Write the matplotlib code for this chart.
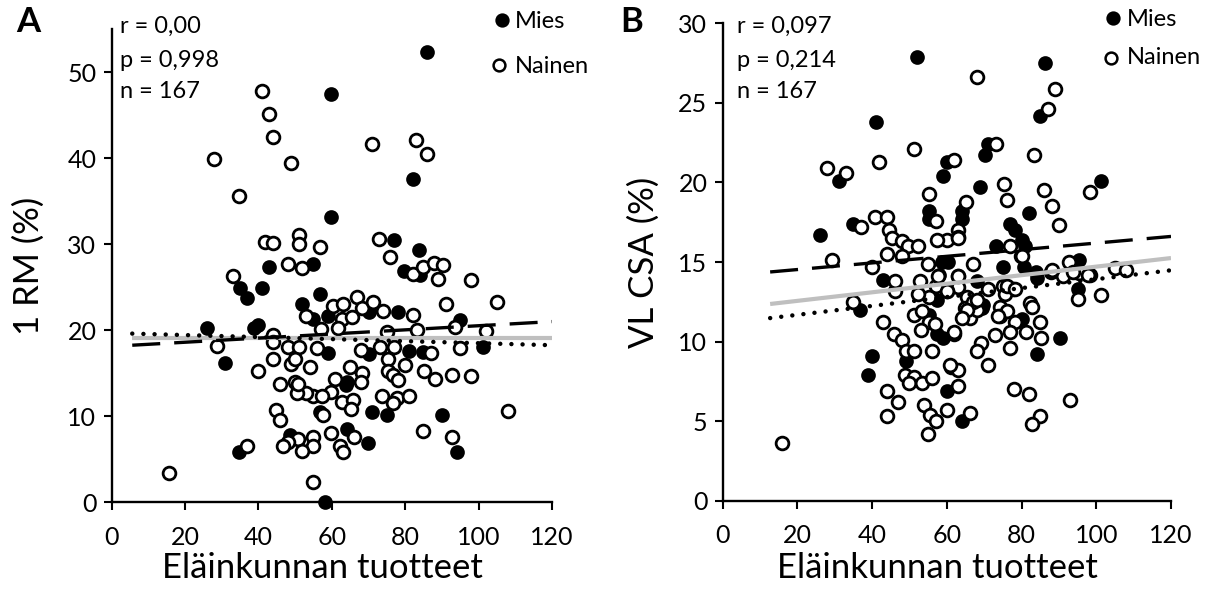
#!/usr/bin/env python3
"""Scatter plots of 1 RM and VL CSA change against animal-product intake."""
import numpy as np
import matplotlib
matplotlib.use("Agg")
import matplotlib.pyplot as plt

plt.rcParams["font.family"] = ["Lato", "DejaVu Sans"]

# panel A: 1 RM (%) vs intake, (x, y) per subject
rm_mies = [
    (86.0, 52.3), (59.9, 47.4), (59.9, 33.2), (82.0, 37.6), (77.0, 30.5), (83.8, 29.3),
    (42.9, 27.3), (54.9, 27.7), (35.0, 24.9), (36.8, 23.7), (40.9, 24.9), (79.7, 26.9),
    (84.0, 26.4), (56.9, 24.2), (51.9, 23.1), (54.9, 21.3), (58.9, 21.6), (70.2, 22.1),
    (78.1, 22.1), (95.0, 21.2), (25.9, 20.3), (38.9, 20.2), (40.0, 20.6), (30.9, 16.2),
    (59.0, 17.4), (70.2, 17.2), (81.1, 17.6), (84.9, 17.5), (101.1, 18.1), (64.0, 14.0),
    (63.8, 13.6), (56.8, 10.5), (71.0, 10.5), (75.1, 10.1), (90.1, 10.2), (94.2, 5.9),
    (64.0, 8.5), (69.9, 6.9), (48.6, 7.8), (34.8, 5.9), (58.1, 0.0),
]
rm_nainen = [
    (40.9, 47.8), (42.9, 45.1), (43.9, 42.4), (28.0, 39.9), (48.9, 39.4), (34.8, 35.6),
    (71.0, 41.6), (82.9, 42.1), (86.0, 40.5), (41.8, 30.3), (44.0, 30.1), (51.0, 31.1),
    (51.0, 30.0), (56.9, 29.7), (72.9, 30.6), (75.8, 28.5), (48.0, 27.7), (51.9, 27.2),
    (33.0, 26.3), (82.0, 26.5), (84.9, 27.3), (87.9, 27.8), (90.2, 27.6), (89.0, 25.9),
    (97.9, 25.8), (105.1, 23.3), (52.9, 21.7), (60.2, 22.8), (63.1, 23.1), (62.9, 21.3),
    (65.4, 21.5), (66.9, 23.9), (68.1, 22.6), (71.1, 23.3), (74.0, 22.2), (82.0, 21.8),
    (91.1, 23.1), (93.5, 20.4), (57.0, 20.1), (61.8, 20.3), (74.9, 19.8), (83.1, 20.0),
    (102.0, 19.9), (44.0, 19.4), (28.8, 18.2), (39.9, 15.3), (43.9, 18.6), (43.9, 16.6),
    (48.1, 18.1), (51.0, 18.1), (55.9, 17.9), (49.0, 16.1), (49.9, 16.7), (54.0, 15.7),
    (67.9, 17.7), (73.1, 18.0), (77.0, 18.0), (75.2, 16.6), (79.9, 16.0), (87.0, 17.3),
    (94.9, 17.9), (85.1, 15.3), (88.1, 14.3), (92.8, 14.8), (64.9, 15.7), (68.1, 15.0),
    (67.9, 14.0), (60.8, 14.3), (59.9, 12.8), (54.9, 12.4), (57.2, 12.3), (52.9, 12.7),
    (50.6, 12.7), (49.9, 14.0), (45.9, 13.8), (50.8, 13.8), (62.9, 11.7), (65.8, 11.9),
    (65.1, 10.9), (75.4, 15.2), (76.7, 14.8), (78.1, 14.2), (97.9, 14.7), (73.8, 12.3),
    (77.7, 12.1), (81.1, 12.4), (76.7, 11.5), (44.8, 10.7), (45.9, 9.6), (57.7, 10.1),
    (108.1, 10.6), (84.9, 8.3), (92.8, 7.6), (59.9, 8.0), (66.1, 7.6), (62.2, 6.5),
    (63.1, 5.8), (54.9, 7.6), (54.9, 6.5), (50.8, 7.4), (48.1, 7.0), (46.8, 6.5),
    (51.9, 6.0), (36.8, 6.5), (15.7, 3.4), (54.9, 2.4),
]

# panel B: VL CSA (%) vs intake
csa_mies = [
    (52.1, 27.9), (41.1, 23.8), (31.0, 20.1), (60.0, 21.3), (59.1, 20.4), (55.1, 18.2),
    (55.1, 17.7), (35.0, 17.4), (26.1, 16.7), (86.2, 27.5), (85.0, 24.2), (71.1, 22.4),
    (70.1, 21.7), (68.9, 19.7), (101.3, 20.1), (82.1, 18.1), (64.0, 18.2), (64.0, 17.7),
    (77.0, 17.4), (78.3, 17.0), (80.1, 16.4), (81.0, 16.0), (73.2, 16.0), (75.0, 14.7),
    (80.7, 14.7), (83.9, 14.4), (95.3, 15.1), (95.1, 13.3), (84.1, 14.0), (68.0, 13.8),
    (58.7, 15.0), (60.4, 15.0), (58.0, 14.2), (57.3, 12.6), (69.4, 12.1), (80.1, 11.4),
    (55.1, 11.7), (36.8, 12.0), (42.9, 13.9), (39.9, 9.1), (39.0, 7.9), (49.1, 8.8),
    (57.3, 10.5), (59.1, 10.2), (69.8, 12.3), (90.2, 10.2), (84.1, 9.2), (60.0, 6.9),
    (64.0, 5.0),
]
csa_nainen = [
    (51.1, 22.1), (41.9, 21.3), (27.9, 20.9), (33.0, 20.6), (62.0, 21.4), (55.1, 19.3),
    (57.1, 17.6), (40.8, 17.8), (44.1, 17.8), (37.0, 17.2), (44.4, 17.0), (45.3, 16.5),
    (47.9, 16.3), (49.7, 16.0), (52.4, 16.0), (60.0, 16.4), (63.1, 17.0), (29.2, 15.1),
    (68.0, 26.6), (89.0, 25.9), (87.2, 24.6), (73.2, 22.4), (83.2, 21.7), (75.2, 19.9),
    (76.1, 18.9), (86.1, 19.5), (88.1, 18.5), (89.9, 17.3), (98.2, 19.4), (65.2, 18.8),
    (63.1, 16.6), (57.3, 16.4), (77.0, 16.0), (79.9, 15.4), (87.9, 14.4), (92.8, 15.0),
    (95.3, 14.3), (98.4, 14.2), (91.2, 14.1), (95.1, 12.7), (101.3, 12.9), (71.1, 13.3),
    (75.0, 13.5), (77.7, 13.3), (75.6, 13.0), (67.1, 14.9), (62.9, 14.1), (62.9, 13.4),
    (60.0, 13.2), (57.1, 13.5), (57.5, 14.1), (54.9, 14.9), (52.9, 13.8), (55.1, 12.8),
    (52.4, 13.0), (65.4, 12.8), (68.0, 12.5), (64.9, 12.1), (66.2, 11.5), (74.3, 12.2),
    (74.3, 11.6), (82.3, 12.4), (82.9, 12.2), (85.0, 11.2), (78.3, 11.2), (55.1, 11.2),
    (51.1, 11.7), (43.0, 11.2), (46.2, 13.2), (46.2, 13.8), (43.9, 15.5), (47.9, 15.4),
    (35.0, 12.5), (39.9, 14.7), (53.3, 11.9), (45.9, 10.5), (47.9, 10.1), (49.1, 9.4),
    (51.2, 9.4), (53.0, 10.7), (56.9, 11.1), (56.0, 9.4), (62.0, 10.5), (48.8, 7.9),
    (51.1, 7.8), (50.0, 7.4), (53.3, 7.4), (56.0, 7.7), (43.9, 6.9), (47.0, 6.2),
    (43.9, 5.3), (54.0, 6.0), (55.5, 5.4), (57.1, 5.0), (60.0, 5.7), (54.9, 4.2),
    (63.1, 7.2), (61.2, 8.4), (63.1, 8.2), (66.1, 5.5), (68.0, 12.0), (69.1, 9.9),
    (68.0, 9.4), (71.1, 8.5), (72.9, 10.4), (77.0, 10.6), (77.0, 9.6), (81.2, 10.6),
    (85.2, 10.2), (78.0, 7.0), (81.9, 6.7), (85.0, 5.3), (82.9, 4.8), (93.0, 6.3),
    (16.0, 3.6), (88.1, 14.5), (93.9, 14.4), (97.9, 14.2), (105.1, 14.6), (108.0, 14.5),
    (63.1, 14.1), (60.0, 13.2), (76.1, 13.5), (78.3, 13.3), (76.1, 11.9), (73.8, 11.6),
    (61.8, 10.6), (60.9, 8.5), (67.1, 12.5), (65.4, 12.0), (64.0, 11.5), (68.0, 12.6),
    (80.1, 15.4), (63.0, 16.5),
]

# linear trends: (x start, x end, intercept, slope)
rm_trend_mies = (5.6, 120, 18.12, 0.024)
rm_trend_nainen = (5.6, 120, 19.67, -0.0118)
rm_trend_all = (5.6, 120, 19.1, 0.0)
csa_trend_mies = (12.7, 120, 14.11, 0.0208)
csa_trend_nainen = (12.7, 120, 11.12, 0.028)
csa_trend_all = (12.7, 120, 12.02, 0.0269)

rm_stats = ["r = 0,00", "p = 0,998", "n = 167"]
csa_stats = ["r = 0,097", "p = 0,214", "n = 167"]

W, H = 1213, 592
fig = plt.figure(figsize=(W / 100, H / 100), dpi=100)


def fx(px):
    return px / W


def fy(py):
    return 1 - py / H


ax_a = fig.add_axes([fx(111.7), fy(502.3), (552 - 111.7) / W, (502.3 - 29) / H])
ax_b = fig.add_axes([fx(722.7), fy(500.7), (1171 - 722.7) / W, (500.7 - 23.3) / H])


def trend(ax, spec, **kw):
    x0, x1, a, b = spec
    xs = np.array([x0, x1])
    ax.plot(xs, a + b * xs, zorder=5, **kw)


def panel(ax, mies, nainen, trends, ymax, ystep, ylabel):
    m = np.array(mies)
    n = np.array(nainen)
    ax.scatter(m[:, 0], m[:, 1], s=84, facecolor="black", edgecolor="black",
               linewidths=1.4, zorder=3, clip_on=False)
    ax.scatter(n[:, 0], n[:, 1], s=84, facecolor="white", edgecolor="black",
               linewidths=2.0, zorder=4, clip_on=False)
    t_mies, t_nainen, t_all = trends
    trend(ax, t_all, color="#BFBFBF", lw=3.0, solid_capstyle="butt")
    trend(ax, t_mies, color="black", lw=2.4, linestyle=(0, (8.4, 4.2)))
    trend(ax, t_nainen, color="black", lw=3.2, linestyle=(0, (0.01, 2.5)),
          dash_capstyle="round")

    ax.set_xlim(0, 120)
    ax.set_ylim(0, ymax)
    ax.set_xticks(np.arange(0, 121, 20))
    ax.set_yticks(np.arange(0, ymax + 0.1, ystep))
    for side in ("top", "right"):
        ax.spines[side].set_visible(False)
    for side in ("left", "bottom"):
        ax.spines[side].set_linewidth(1.7)
    ax.tick_params(direction="out", length=6, width=1.5, labelsize=18)
    ax.tick_params(axis="x", pad=11)
    ax.tick_params(axis="y", pad=5)
    ax.set_xlabel("Eläinkunnan tuotteet", fontsize=25)
    ax.set_ylabel(ylabel, fontsize=25)


panel(ax_a, rm_mies, rm_nainen, (rm_trend_mies, rm_trend_nainen, rm_trend_all),
      55, 10, "1 RM (%)")
panel(ax_b, csa_mies, csa_nainen, (csa_trend_mies, csa_trend_nainen, csa_trend_all),
      30, 5, "VL CSA (%)")
ax_a.set_yticks(np.arange(0, 51, 10))
ax_a.xaxis.set_label_coords(0.478, -0.105)
ax_b.xaxis.set_label_coords(0.478, -0.107)
ax_a.yaxis.set_label_coords(-0.1515, 0.5)
ax_b.yaxis.set_label_coords(-0.14, 0.5)

# panel letters
fig.text(fx(28), fy(22), "A", fontsize=25, fontweight="bold", ha="center", va="center")
fig.text(fx(632), fy(22), "B", fontsize=25, fontweight="bold", ha="center", va="center")

# correlation statistics
for stats, left in ((rm_stats, 120), (csa_stats, 737)):
    for line, base in zip(stats, (33.3, 66.7, 97.7)):
        fig.text(fx(left), fy(base), line, fontsize=17, ha="left", va="baseline")

# legend entries
for (mx, my, mtx, mbase), fill, label in (
    ((502, 20, 515, 28.3), "black", "Mies"),
    ((499, 65, 515, 73.3), "white", "Nainen"),
    ((1113, 18, 1127, 26), "black", "Mies"),
    ((1111, 58, 1127, 64), "white", "Nainen"),
):
    fig.add_artist(plt.Line2D([fx(mx)], [fy(my)], marker="o", markersize=8.5,
                              markerfacecolor=fill, markeredgecolor="black",
                              markeredgewidth=1.8, linestyle="none",
                              transform=fig.transFigure))
    fig.text(fx(mtx), fy(mbase), label, fontsize=17, ha="left", va="baseline")

fig.savefig("out.png", dpi=100)
